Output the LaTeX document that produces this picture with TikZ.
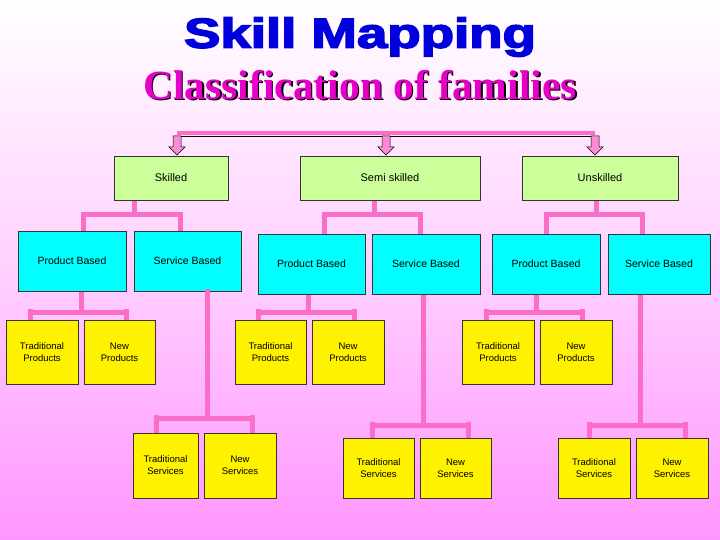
\documentclass[tikz,border=0pt]{standalone}
\usepackage{fontspec}
\setmainfont{Liberation Sans}
\newfontfamily\serifb{Liberation Serif}
\definecolor{conn}{RGB}{250,110,200}
\definecolor{lgreen}{RGB}{204,255,153}
\definecolor{cyn}{RGB}{0,255,255}
\definecolor{bgb}{RGB}{255,150,255}
\definecolor{ttl}{RGB}{0,0,220}
\definecolor{mag}{RGB}{230,0,200}
\tikzset{
 bx/.style={draw=black!80,line width=0.8pt,inner sep=1pt,align=center,font=\fontsize{9.5}{12}\selectfont},
 lvl/.style={bx,fill=lgreen,font=\fontsize{11}{13}\selectfont},
 cy/.style={bx,fill=cyn,font=\fontsize{10.5}{13}\selectfont},
 yl/.style={bx,fill=yellow},
 cn/.style={conn,line width=5pt},
 arr/.style={draw=black,fill=conn!80,line width=0.5pt,line join=miter},
}
\newcommand{\bxat}[6]{\node[#1,minimum width=#4-#3,minimum height=#6-#5] (#2) at ({(#3+#4)/2},{(#5+#6)/2}) }
\begin{document}
\begin{tikzpicture}[x=1pt,y=-1pt]
\shade[top color=white,bottom color=bgb,middle color=bgb!45] (0,0) rectangle (720,540);
\useasboundingbox (0,0) rectangle (720,540);
\node[font=\fontsize{42}{42}\bfseries\selectfont,text=ttl,xscale=1.3] (t1) at (360,37) {\special{pdf:literal 2 Tr 1.4 w 0 0 0.86 RG}Skill Mapping\special{pdf:literal 0 Tr}};
\node[font=\serifb\fontsize{41.5}{42}\bfseries\selectfont,text=black] at (361.5,86.5) {Classification of families};
\node[font=\serifb\fontsize{41.5}{42}\bfseries\selectfont,text=mag] (t2) at (360,85) {Classification of families};
% level 1
\bxat{lvl}{sk}{114}{228}{156}{200}{Skilled};
\bxat{lvl}{ss}{300}{480}{156}{200}{Semi skilled};
\bxat{lvl}{us}{522}{678}{156}{200}{Unskilled};
\coordinate (bl) at (177,133); \coordinate (br) at (595,133);
\draw[conn,line width=4pt] (bl) -- (br);
\draw[black,line width=0.6pt] (177,136) -- (595,136);
\foreach \x in {177,386,595}{
 \draw[arr] (\x-4,136) -- (\x+4,136) -- (\x+4,147) -- (\x+8,147) -- (\x,155) -- (\x-8,147) -- (\x-4,147) -- cycle;}
% level 2
\bxat{cy}{skp}{18}{126}{231}{291}{Product Based};
\bxat{cy}{sks}{134}{241}{231}{291}{Service Based};
\bxat{cy}{ssp}{258}{365}{234}{294}{Product Based};
\bxat{cy}{sss}{372}{480}{234}{294}{Service Based};
\bxat{cy}{usp}{492}{600}{234}{294}{Product Based};
\bxat{cy}{uss}{608}{710}{234}{294}{Service Based};
% level 3
\bxat{yl}{a1}{6}{78}{320}{384}{Traditional\\Products};
\bxat{yl}{a2}{84}{155}{320}{384}{New\\Products};
\bxat{yl}{b1}{235}{306}{320}{384}{Traditional\\Products};
\bxat{yl}{b2}{312}{384}{320}{384}{New\\Products};
\bxat{yl}{c1}{462}{534}{320}{384}{Traditional\\Products};
\bxat{yl}{c2}{540}{612}{320}{384}{New\\Products};
\bxat{yl}{d1}{133}{198}{433}{498}{Traditional\\Services};
\bxat{yl}{d2}{204}{276}{433}{498}{New\\Services};
\bxat{yl}{e1}{343}{414}{438}{498}{Traditional\\Services};
\bxat{yl}{e2}{420}{491}{438}{498}{New\\Services};
\bxat{yl}{f1}{558}{630}{438}{498}{Traditional\\Services};
\bxat{yl}{f2}{636}{708}{438}{498}{New\\Services};
% brackets
\draw[cn] (134,201) -- (134,215) (83,215) -- (180,215) (83,212) -- (83,231) (180,212) -- (180,231);
\draw[cn] (374,201) -- (374,215) (324,215) -- (420,215) (324,212) -- (324,234) (420,212) -- (420,234);
\draw[cn] (596,201) -- (596,215) (546,215) -- (642,215) (546,212) -- (546,234) (642,212) -- (642,234);
\draw[cn] (81,292) -- (81,312) (30,312) -- (126,312) (30,309) -- (30,320) (126,309) -- (126,320);
\draw[cn] (308,295) -- (308,312) (258,312) -- (354,312) (258,309) -- (258,320) (354,309) -- (354,320);
\draw[cn] (536,295) -- (536,312) (486,312) -- (582,312) (486,309) -- (486,320) (582,309) -- (582,320);
\draw[cn] (207,289) -- (207,418) (156,418) -- (252,418) (156,415) -- (156,433) (252,415) -- (252,433);
\draw[cn] (423,295) -- (423,425) (372,425) -- (468,425) (372,422) -- (372,438) (468,422) -- (468,438);
\draw[cn] (640,295) -- (640,425) (589,425) -- (685,425) (589,422) -- (589,438) (685,422) -- (685,438);
\end{tikzpicture}
\end{document}
